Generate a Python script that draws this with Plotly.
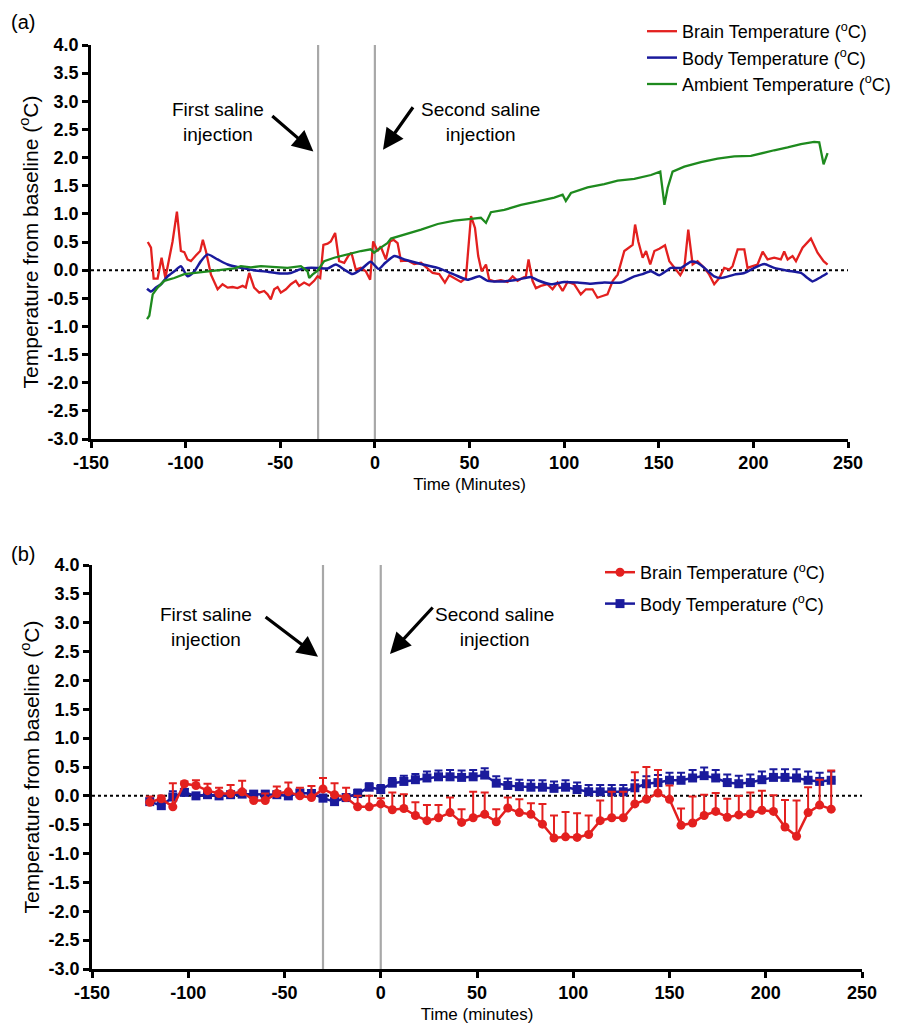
import plotly.graph_objects as go

# ---------------- Panel (a) data: continuous recordings ----------------
A_BRAIN_T = [-120, -118.3, -116.9, -114.8, -112.7, -110.7, -106.9, -104.6, -102.5, -100.7,
             -99.0, -97.2, -94.6, -92.3, -90.9, -89.3, -86.6, -83.1, -80.5, -77.8,
             -75.2, -72.6, -69.9, -68.2, -66.4, -63.8, -61.1, -58.5, -56.7, -55.0,
             -53.2, -51.4, -49.7, -47.0, -44.4, -41.8, -40.0, -37.4, -34.7, -32.1,
             -30.3, -28.9, -27.2, -25.0, -23.3, -21.0, -18.9, -16.2, -14.1, -12.4,
             -10.1, -7.4, -4.8, -2.5, -0.9, 1.4, 3.1, 5.8, 8.0, 9.9,
             12.0, 13.8, 17.3, 20.8, 24.4, 27.9, 30.5, 34.0, 37.0, 39.3,
             42.0, 45.5, 48.1, 50.8, 52.9, 54.6, 56.4, 58.7, 60.4, 63.1,
             66.6, 70.1, 72.8, 75.4, 78.0, 79.8, 81.2, 83.3, 85.1, 87.7,
             91.2, 93.9, 96.5, 99.2, 101.8, 105.3, 108.8, 111.5, 115.0, 117.6,
             120.3, 122.9, 125.7, 128.3, 131.8, 134.5, 136.2, 137.5, 139.2, 141.5,
             143.3, 145.5, 147.7, 150.3, 153.3, 155.6, 158.6, 161.4, 163.5, 165.6,
             167.9, 170.5, 174.1, 176.7, 179.3, 182.0, 184.6, 187.3, 189.0, 191.7,
             195.2, 196.9, 199.6, 202.2, 204.9, 207.5, 211.0, 214.5, 216.3, 218.1,
             220.7, 222.5, 226.0, 230.4, 233.9, 237.1, 239.2]
A_BRAIN_V = [0.50, 0.40, -0.15, -0.15, 0.22, -0.14, 0.51, 1.04, 0.34, 0.32,
             0.19, 0.16, 0.26, 0.34, 0.54, 0.34, -0.08, -0.34, -0.25, -0.31,
             -0.30, -0.32, -0.28, -0.31, -0.05, -0.31, -0.40, -0.37, -0.43, -0.52,
             -0.34, -0.30, -0.40, -0.34, -0.25, -0.19, -0.28, -0.22, -0.27, -0.19,
             -0.11, -0.14, 0.45, 0.47, 0.51, 0.66, 0.16, 0.13, 0.25, 0.31,
             0.01, 0.04, -0.02, -0.17, 0.51, 0.34, 0.42, 0.19, 0.51, 0.54,
             0.48, 0.16, 0.17, 0.11, 0.13, 0.03, -0.05, -0.07, -0.22, -0.09,
             -0.14, -0.21, -0.14, 0.96, 0.75, 0.25, -0.02, 0.10, -0.17, -0.20,
             -0.18, -0.21, -0.11, -0.19, -0.14, -0.11, 0.19, -0.19, -0.32, -0.28,
             -0.25, -0.34, -0.22, -0.37, -0.21, -0.25, -0.43, -0.34, -0.34, -0.49,
             -0.46, -0.43, -0.19, -0.08, 0.34, 0.40, 0.45, 0.81, 0.51, 0.22,
             0.34, 0.10, 0.34, 0.38, 0.44, 0.16, 0.04, -0.09, 0.04, 0.72,
             0.10, 0.16, 0.04, -0.08, -0.25, -0.14, 0.04, 0.01, 0.07, 0.37,
             0.37, 0.04, 0.07, 0.10, 0.33, 0.19, 0.22, 0.19, 0.33, 0.19,
             0.25, 0.16, 0.40, 0.56, 0.31, 0.16, 0.10]

A_BODY_T = [-120.4, -118.3, -115.7, -113.0, -109.5, -106.0, -102.5, -99.0, -95.4, -91.9,
            -88.4, -83.1, -77.8, -70.8, -63.8, -56.7, -49.7, -44.4, -40.0, -35.6,
            -30.3, -25.0, -20.6, -16.2, -11.8, -7.4, -2.2, 2.0, 5.5, 10.3,
            15.5, 24.4, 33.2, 42.0, 49.0, 55.2, 59.6, 68.4, 75.4, 82.4,
            86.0, 93.0, 100.0, 107.1, 114.1, 121.2, 130.1, 137.1, 141.5, 145.9,
            150.3, 156.5, 161.7, 167.0, 170.5, 174.1, 179.3, 182.9, 189.9, 195.2,
            200.5, 205.7, 211.0, 218.1, 225.1, 228.6, 231.3, 234.8, 239.2]
A_BODY_V = [-0.33, -0.38, -0.31, -0.25, -0.11, -0.02, 0.07, -0.11, -0.02, 0.16,
            0.28, 0.19, 0.10, 0.04, 0.00, -0.03, -0.06, -0.05, 0.01, 0.04,
            0.04, 0.03, 0.10, 0.01, -0.07, 0.01, 0.15, 0.02, 0.13, 0.25,
            0.19, 0.11, 0.04, -0.08, -0.17, -0.11, -0.19, -0.20, -0.17, -0.12,
            -0.18, -0.25, -0.21, -0.22, -0.24, -0.22, -0.22, -0.11, -0.07, -0.02,
            -0.09, 0.04, 0.04, 0.15, 0.13, 0.04, -0.11, -0.14, -0.08, -0.05,
            0.04, 0.11, 0.04, -0.01, -0.05, -0.14, -0.20, -0.14, -0.05]

A_AMB_T = [-120.4, -119.2, -117.4, -114.8, -111.3, -106.0, -100.7, -95.4, -88.4, -81.4,
           -74.3, -70.8, -65.5, -60.2, -53.2, -46.2, -39.1, -35.6, -34.7, -33.0,
           -30.3, -26.8, -21.5, -14.5, -7.4, -2.2, -0.4, 3.1, 6.6, 8.5,
           15.6, 24.4, 33.2, 42.0, 50.8, 56.0, 58.7, 61.3, 68.4, 77.2,
           86.0, 94.8, 99.2, 100.9, 103.6, 112.4, 121.2, 128.3, 137.1, 145.9,
           150.8, 153.0, 154.7, 157.3, 163.5, 172.3, 181.1, 189.9, 198.7, 205.7,
           211.0, 218.1, 225.1, 232.1, 234.8, 237.1, 239.2]
A_AMB_V = [-0.87, -0.81, -0.43, -0.31, -0.19, -0.14, -0.07, -0.05, -0.02, 0.01,
           0.03, 0.07, 0.05, 0.07, 0.05, 0.04, 0.07, -0.02, -0.14, -0.08,
           -0.01, 0.16, 0.22, 0.28, 0.34, 0.37, 0.31, 0.40, 0.48, 0.56,
           0.63, 0.72, 0.82, 0.88, 0.91, 0.93, 0.84, 1.03, 1.07, 1.16,
           1.22, 1.29, 1.34, 1.23, 1.37, 1.47, 1.53, 1.59, 1.62, 1.69,
           1.75, 1.16, 1.46, 1.75, 1.84, 1.92, 1.98, 2.02, 2.03, 2.09,
           2.13, 2.18, 2.24, 2.28, 2.27, 1.88, 2.08]

# ---------------- Panel (b) data: 6-min means with SEM ----------------
B_TIME = [-120, -114, -108, -102, -96, -90, -84, -78, -72, -66,
          -60, -54, -48, -42, -36, -30, -24, -18, -12, -6,
          0, 6, 12, 18, 24, 30, 36, 42, 48, 54,
          60, 66, 72, 78, 84, 90, 96, 102, 108, 114,
          120, 126, 132, 138, 144, 150, 156, 162, 168, 174,
          180, 186, 192, 198, 204, 210, 216, 222, 228, 234]
B_BRAIN = [-0.11, -0.05, -0.19, 0.21, 0.18, 0.09, 0.04, 0.04, 0.07, -0.08,
           -0.08, 0.04, 0.07, 0.00, -0.03, 0.12, 0.02, -0.03, -0.19, -0.19,
           -0.14, -0.24, -0.22, -0.34, -0.43, -0.38, -0.29, -0.46, -0.38, -0.32,
           -0.45, -0.21, -0.29, -0.32, -0.49, -0.73, -0.71, -0.72, -0.67, -0.43,
           -0.38, -0.38, -0.14, -0.06, 0.05, -0.06, -0.51, -0.47, -0.34, -0.27,
           -0.37, -0.33, -0.31, -0.25, -0.27, -0.54, -0.70, -0.29, -0.16, -0.23]
B_BRAIN_SEM = [0.10, 0.05, 0.41, 0.04, 0.09, 0.12, 0.10, 0.15, 0.19, 0.05,
               0.12, 0.12, 0.16, 0.14, 0.20, 0.19, 0.20, 0.17, 0.19, 0.19,
               0.10, 0.30, 0.25, 0.23, 0.27, 0.22, 0.26, 0.23, 0.45, 0.38,
               0.22, 0.18, 0.23, 0.19, 0.35, 0.39, 0.43, 0.42, 0.33, 0.35,
               0.45, 0.45, 0.55, 0.56, 0.40, 0.24, 0.29, 0.46, 0.36, 0.32,
               0.32, 0.33, 0.37, 0.34, 0.28, 0.47, 0.62, 0.44, 0.44, 0.67]
B_BODY = [-0.10, -0.17, -0.02, 0.06, 0.00, 0.02, 0.00, 0.02, 0.03, 0.03,
          0.03, 0.02, 0.00, 0.05, 0.04, -0.04, -0.10, -0.03, 0.04, 0.15,
          0.11, 0.22, 0.25, 0.28, 0.31, 0.33, 0.33, 0.32, 0.33, 0.36,
          0.22, 0.18, 0.16, 0.15, 0.15, 0.13, 0.15, 0.11, 0.07, 0.07,
          0.07, 0.07, 0.14, 0.21, 0.23, 0.27, 0.27, 0.31, 0.35, 0.31,
          0.23, 0.21, 0.23, 0.28, 0.32, 0.32, 0.31, 0.27, 0.25, 0.27]
B_BODY_SEM = [0.05, 0.05, 0.10, 0.06, 0.05, 0.05, 0.05, 0.05, 0.05, 0.05,
              0.05, 0.05, 0.06, 0.05, 0.06, 0.06, 0.06, 0.06, 0.07, 0.07,
              0.08, 0.09, 0.10, 0.10, 0.11, 0.11, 0.12, 0.12, 0.12, 0.12,
              0.12, 0.12, 0.12, 0.12, 0.12, 0.12, 0.12, 0.12, 0.12, 0.12,
              0.12, 0.12, 0.13, 0.13, 0.13, 0.13, 0.13, 0.14, 0.14, 0.14,
              0.14, 0.14, 0.14, 0.14, 0.14, 0.14, 0.15, 0.15, 0.15, 0.15]

X_TICKS = [-150, -100, -50, 0, 50, 100, 150, 200, 250]
X_LABELS = ["-150", "-100", "-50", "0", "50", "100", "150", "200", "250"]
Y_TICKS = [4.0, 3.5, 3.0, 2.5, 2.0, 1.5, 1.0, 0.5, 0.0, -0.5, -1.0, -1.5, -2.0, -2.5, -3.0]
Y_LABELS = ["4.0", "3.5", "3.0", "2.5", "2.0", "1.5", "1.0", "0.5", "0.0",
            "-0.5", "-1.0", "-1.5", "-2.0", "-2.5", "-3.0"]
INJECTIONS = [-30, 0]

RED = "#E3201F"
BLUE = "#1A1A9C"
GREEN = "#1E8A1E"
GREY = "#A8A8A8"
FONT = "Liberation Sans, Arial, sans-serif"

W, H = 908, 1027


def px(v, total):
    return v / total


fig = go.Figure()

# Panel (a)
fig.add_trace(go.Scatter(x=A_BRAIN_T, y=A_BRAIN_V, mode="lines", name="Brain Temperature (<sup>o</sup>C)",
                         line=dict(color=RED, width=2.3), xaxis="x", yaxis="y", legend="legend"))
fig.add_trace(go.Scatter(x=A_BODY_T, y=A_BODY_V, mode="lines", name="Body Temperature (<sup>o</sup>C)",
                         line=dict(color=BLUE, width=2.5, shape="spline", smoothing=0.6),
                         xaxis="x", yaxis="y", legend="legend"))
fig.add_trace(go.Scatter(x=A_AMB_T, y=A_AMB_V, mode="lines", name="Ambient Temperature (<sup>o</sup>C)",
                         line=dict(color=GREEN, width=2.3), xaxis="x", yaxis="y", legend="legend"))

# Panel (b)
fig.add_trace(go.Scatter(x=B_TIME, y=B_BODY, mode="lines+markers", name="Body Temperature (<sup>o</sup>C)",
                         line=dict(color=BLUE, width=2.5),
                         marker=dict(symbol="square", size=9, color=BLUE),
                         error_y=dict(type="data", symmetric=False, array=B_BODY_SEM,
                                      arrayminus=[0] * len(B_BODY_SEM), color=BLUE, thickness=2, width=4),
                         xaxis="x2", yaxis="y2", legend="legend2", legendrank=2, legendgroup="body"))
fig.add_trace(go.Scatter(x=B_TIME, y=B_BRAIN, mode="lines+markers", name="Brain Temperature (<sup>o</sup>C)",
                         line=dict(color=RED, width=2.5),
                         marker=dict(symbol="circle", size=9, color=RED),
                         error_y=dict(type="data", symmetric=False, array=B_BRAIN_SEM,
                                      arrayminus=[0] * len(B_BRAIN_SEM), color=RED, thickness=2, width=4),
                         xaxis="x2", yaxis="y2", legend="legend2", legendrank=1, legendgroup="brain"))

axis_common = dict(
    showgrid=False, zeroline=False, showline=True, linecolor="black", linewidth=2.5,
    ticks="outside", ticklen=6, tickwidth=2.5, tickcolor="black", automargin=False,
    tickfont=dict(family=FONT, size=18, color="black", weight="bold"),
)

# Panel geometry (pixels)
A_L, A_R, A_T, A_B = 83, 840, 37, 431
B_L, B_R, B_T, B_B = 84, 854, 557, 961

fig.update_layout(
    width=W, height=H,
    margin=dict(l=0, r=0, t=0, b=0, autoexpand=False),
    paper_bgcolor="white", plot_bgcolor="white",
    font=dict(family=FONT, color="black"),
    xaxis=dict(domain=[px(A_L, W), px(A_R, W)], range=[-150, 250], anchor="y",
               tickvals=X_TICKS, ticktext=X_LABELS,
               title=dict(text="Time (Minutes)", font=dict(family=FONT, size=17), standoff=6),
               **axis_common),
    yaxis=dict(domain=[1 - px(A_B, H), 1 - px(A_T, H)], range=[-3, 4], anchor="x",
               tickvals=Y_TICKS, ticktext=Y_LABELS,
               title=dict(text="Temperature from baseline (<sup>o</sup>C)", font=dict(family=FONT, size=21), standoff=4),
               **axis_common),
    xaxis2=dict(domain=[px(B_L, W), px(B_R, W)], range=[-150, 250], anchor="y2",
                tickvals=X_TICKS, ticktext=X_LABELS,
                title=dict(text="Time (minutes)", font=dict(family=FONT, size=17), standoff=6),
                **axis_common),
    yaxis2=dict(domain=[1 - px(B_B, H), 1 - px(B_T, H)], range=[-3, 4], anchor="x2",
                tickvals=Y_TICKS, ticktext=Y_LABELS,
                title=dict(text="Temperature from baseline (<sup>o</sup>C)", font=dict(family=FONT, size=21), standoff=4),
                **axis_common),
    legend=dict(x=px(634, W), y=1 - px(5, H), xanchor="left", yanchor="top",
                font=dict(family=FONT, size=18), bgcolor="rgba(0,0,0,0)", tracegroupgap=0,
                itemwidth=30),
    legend2=dict(x=px(592, W), y=1 - px(546, H), xanchor="left", yanchor="top",
                 font=dict(family=FONT, size=18), bgcolor="rgba(0,0,0,0)", tracegroupgap=5,
                 itemwidth=30),
    showlegend=True,
)

shapes = []
for xr, yr in (("x", "y"), ("x2", "y2")):
    shapes.append(dict(type="line", xref=xr, yref=yr, x0=-150, x1=250, y0=0, y1=0,
                       line=dict(color="black", width=2, dash="dot"), layer="below"))
    for t in INJECTIONS:
        shapes.append(dict(type="line", xref=xr, yref=yr, x0=t, x1=t, y0=-3, y1=4.12,
                           line=dict(color=GREY, width=2.2), layer="below"))
fig.update_layout(shapes=shapes)

ann = []
# panel labels
ann.append(dict(text="(a)", x=px(1, W), y=1 - px(1, H), xref="paper", yref="paper",
                showarrow=False, xanchor="left", yanchor="top", font=dict(family=FONT, size=20)))
ann.append(dict(text="(b)", x=px(1, W), y=1 - px(533, H), xref="paper", yref="paper",
                showarrow=False, xanchor="left", yanchor="top", font=dict(family=FONT, size=20)))

# text labels & arrows
txt_font = dict(family=FONT, size=19, color="black")
ann.append(dict(text="First saline<br>injection", x=-83, y=2.64, xref="x", yref="y",
                showarrow=False, font=txt_font, align="center"))
ann.append(dict(text="Second saline<br>injection", x=56, y=2.64, xref="x", yref="y",
                showarrow=False, font=txt_font, align="center"))
ann.append(dict(text="First saline<br>injection", x=-91, y=2.93, xref="x2", yref="y2",
                showarrow=False, font=txt_font, align="center"))
ann.append(dict(text="Second saline<br>injection", x=59, y=2.93, xref="x2", yref="y2",
                showarrow=False, font=txt_font, align="center"))

arrow_style = dict(showarrow=True, arrowhead=2, arrowsize=1.3, arrowwidth=3.2, arrowcolor="black", text="")
ann.append(dict(x=-32.5, y=2.11, ax=-55, ay=2.76, xref="x", yref="y", axref="x", ayref="y", **arrow_style))
ann.append(dict(x=4.3, y=2.14, ax=20.7, ay=2.92, xref="x", yref="y", axref="x", ayref="y", **arrow_style))
ann.append(dict(x=-32.6, y=2.41, ax=-60.6, ay=3.12, xref="x2", yref="y2", axref="x2", ayref="y2", **arrow_style))
ann.append(dict(x=4.8, y=2.46, ax=27.7, ay=3.29, xref="x2", yref="y2", axref="x2", ayref="y2", **arrow_style))
fig.update_layout(annotations=ann)

fig.write_html("out.html")
